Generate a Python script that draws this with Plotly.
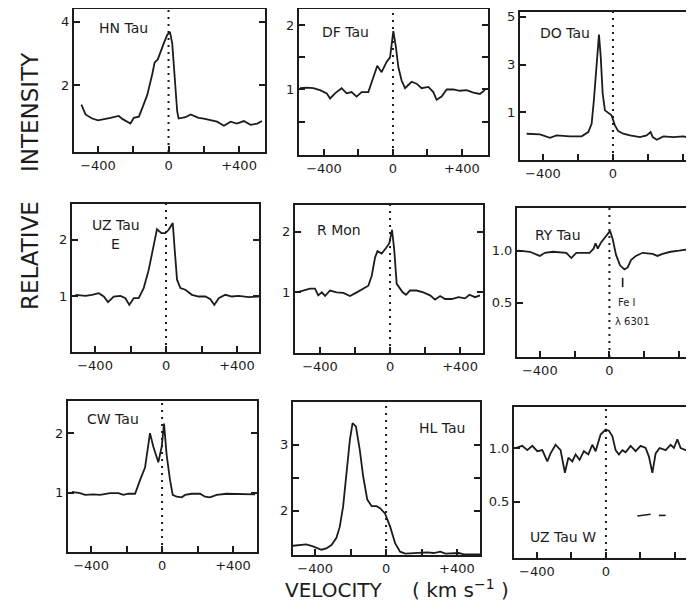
import plotly.graph_objects as go

# ---------------- data (velocity km/s, relative intensity) ----------------
names = ["HN Tau", "DF Tau", "DO Tau", "UZ Tau E", "R Mon", "RY Tau", "CW Tau", "HL Tau", "UZ Tau W"]

hn_v = [-494, -471, -433, -400, -329, -282, -260, -216, -197, -168, -149, -121, -92, -79, -61, -45, -27, -8, 8, 21, 36, 49, 57, 96, 125, 170, 200, 240, 275, 314, 352, 387, 427, 465, 503, 530]
hn_i = [1.38, 1.07, 0.94, 0.88, 0.96, 1.02, 0.92, 0.78, 0.96, 1.00, 1.27, 1.68, 2.35, 2.71, 2.81, 3.07, 3.32, 3.58, 3.68, 3.32, 2.09, 1.17, 0.94, 0.98, 1.07, 0.96, 0.94, 0.88, 0.84, 0.71, 0.84, 0.78, 0.86, 0.74, 0.78, 0.86]

df_v = [-539, -500, -462, -423, -384, -365, -336, -298, -269, -240, -211, -182, -143, -114, -91, -66, -37, -17, 2, 17, 31, 50, 70, 89, 108, 137, 166, 205, 234, 253, 282, 311, 350, 388, 427, 466, 504, 533]
df_i = [1.02, 1.03, 1.02, 0.99, 0.94, 0.86, 0.94, 1.02, 0.94, 0.96, 0.89, 0.96, 0.96, 1.19, 1.37, 1.27, 1.43, 1.50, 1.91, 1.66, 1.35, 1.14, 1.02, 1.07, 1.12, 1.09, 1.02, 1.04, 0.96, 0.84, 0.89, 1.00, 1.00, 0.98, 0.99, 0.95, 0.93, 0.99]

do_v = [-493, -417, -360, -322, -246, -179, -141, -122, -109, -97, -88, -80, -70, -59, -46, -27, -8, 11, 30, 59, 97, 154, 192, 215, 227, 250, 288, 345, 402, 463]
do_i = [0.10, 0.07, -0.07, 0.03, -0.01, -0.01, 0.17, 0.52, 1.51, 2.63, 3.62, 4.25, 3.33, 1.79, 1.08, 0.97, 0.87, 0.45, 0.21, 0.10, 0.03, -0.04, 0.03, 0.17, -0.04, -0.15, -0.01, -0.04, -0.01, -0.11]

uze_v = [-511, -454, -417, -379, -351, -327, -295, -257, -229, -207, -182, -154, -126, -98, -69, -51, -26, -4, 15, 38, 49, 62, 81, 109, 146, 184, 222, 250, 272, 297, 334, 372, 409, 466, 522]
uze_i = [1.02, 1.00, 1.02, 1.05, 0.99, 0.89, 0.99, 1.00, 0.96, 0.84, 0.96, 0.96, 1.14, 1.46, 1.91, 2.19, 2.12, 2.12, 2.18, 2.30, 1.82, 1.29, 1.14, 1.11, 1.02, 0.99, 0.99, 0.94, 0.84, 0.96, 1.02, 0.99, 1.00, 0.98, 0.99]

rm_v = [-533, -495, -457, -429, -410, -390, -371, -343, -305, -267, -229, -190, -152, -124, -105, -86, -72, -48, -23, -4, 11, 23, 38, 53, 72, 91, 114, 152, 190, 229, 257, 286, 314, 352, 391, 429, 453, 486, 514]
rm_i = [1.00, 1.03, 1.06, 1.06, 0.95, 1.00, 0.94, 1.03, 1.00, 0.99, 0.94, 1.00, 1.06, 1.11, 1.27, 1.57, 1.68, 1.64, 1.73, 1.81, 2.03, 1.73, 1.14, 1.08, 1.00, 0.96, 1.03, 1.03, 1.00, 0.95, 0.88, 0.94, 0.89, 0.89, 0.92, 0.90, 0.96, 0.92, 0.95]

ry_v = [-524, -457, -400, -371, -324, -248, -219, -190, -114, -91, -80, -67, -48, -19, 4, 19, 38, 61, 86, 105, 124, 152, 190, 248, 276, 305, 352, 400, 438, 480]
ry_i = [1.00, 0.99, 0.95, 0.98, 0.99, 0.98, 0.93, 0.98, 0.98, 1.02, 1.07, 1.02, 1.08, 1.14, 1.19, 1.11, 0.96, 0.86, 0.82, 0.84, 0.91, 0.95, 0.98, 0.97, 0.95, 0.97, 0.99, 1.00, 1.01, 0.98]

cw_v = [-509, -462, -434, -387, -349, -293, -246, -218, -190, -152, -124, -96, -68, -49, -21, -2, 11, 26, 45, 60, 83, 111, 130, 167, 214, 242, 270, 308, 364, 439, 524]
cw_i = [1.01, 0.99, 0.96, 0.97, 0.96, 0.99, 0.99, 0.96, 0.98, 0.98, 1.21, 1.42, 2.00, 1.77, 1.51, 1.77, 2.16, 1.63, 1.21, 0.96, 0.93, 0.92, 0.96, 0.98, 0.98, 0.93, 0.92, 0.96, 0.98, 0.98, 0.97]

hl_v = [-526, -488, -450, -412, -365, -337, -308, -280, -261, -242, -223, -204, -189, -170, -148, -129, -106, -81, -53, -34, -6, 23, 51, 79, 108, 155, 193, 231, 269, 306, 335, 373, 410, 439, 486, 530]
hl_i = [1.47, 1.48, 1.49, 1.46, 1.41, 1.43, 1.48, 1.59, 1.76, 2.07, 2.62, 3.08, 3.33, 3.28, 2.92, 2.52, 2.17, 2.07, 2.07, 2.04, 1.96, 1.76, 1.51, 1.38, 1.35, 1.36, 1.36, 1.37, 1.36, 1.38, 1.35, 1.36, 1.36, 1.34, 1.34, 1.34]

uzw_v = [-524, -485, -456, -427, -398, -369, -340, -321, -292, -263, -238, -218, -195, -176, -153, -128, -102, -79, -60, -31, -2, 17, 37, 56, 75, 95, 114, 143, 172, 201, 230, 249, 269, 288, 311, 346, 375, 394, 414, 433, 462, 500]
uzw_i = [1.00, 1.02, 0.98, 1.02, 0.97, 0.98, 0.875, 0.95, 1.03, 0.98, 0.77, 0.91, 0.875, 0.94, 0.89, 0.97, 0.94, 1.03, 0.97, 1.125, 1.17, 1.16, 1.11, 0.98, 0.94, 0.98, 0.96, 1.02, 0.97, 1.02, 1.00, 0.92, 0.77, 0.95, 1.00, 0.98, 1.03, 1.00, 1.08, 1.00, 0.98, 1.00]

# stray dashes in UZ Tau W panel
uzw_dash_v = [182, 259, None, 307, 346]
uzw_dash_i = [0.37, 0.385, None, 0.375, 0.375]

x_tickvals = [-400, -200, 0, 200, 400]
x_ticktext = ["\u2212400", "", "0", "", "+400"]

series = [(hn_v, hn_i), (df_v, df_i), (do_v, do_i), (uze_v, uze_i), (rm_v, rm_i),
          (ry_v, ry_i), (cw_v, cw_i), (hl_v, hl_i), (uzw_v, uzw_i)]

y_tickvals = [[2, 4], [0.5, 1, 1.5, 2], [1, 3, 5], [1, 2], [1, 2], [0.5, 1.0], [1, 2], [2, 2.5, 3], [0.5, 1.0]]
y_ticktext = [["2", "4"], ["", "1", "", "2"], ["1", "3", "5"], ["1", "2"], ["1", "2"], ["0.5", "1.0"],
              ["1", "2"], ["2", "", "3"], ["0.5", "1.0"]]

# ---------------- layout geometry ----------------
# The page body has an 8px margin; the figure is sized to fit the 694x613 window
# without scrollbars, and all window-pixel positions are shifted by that margin.
WIN_W, WIN_H, OFF = 694, 613, 8
W, H = WIN_W - 2 * OFF, WIN_H - 2 * OFF

def fx(px):
    return min(max((px - OFF) / W, 0.0), 1.0)

def fy(py):
    return min(max(1 - (py - OFF) / H, 0.0), 0.998)

boxes = [  # window px: x0, x1, ytop, ybottom
    (74, 265, 5, 152), (299, 488, 8, 155), (520, 694, 12, 160),
    (72, 259, 204, 352), (295, 483, 205, 353), (517, 694, 208, 357),
    (68, 257, 401, 552), (293, 480, 402, 555), (514, 694, 407, 558),
]
x_ranges = [(-536, 547), (-545, 551), (-531, 417), (-530, 524), (-543, 531), (-531, 440),
            (-530, 535), (-525, 530), (-533, 464)]
y_ranges = [(-0.12, 4.4), (-0.02, 2.25), (-1.0, 5.2), (0.0, 2.64), (0.0, 2.44), (-0.02, 1.41),
            (0.0, 2.54), (1.33, 3.65), (-0.02, 1.38)]
cut_right = [False, False, True, False, False, True, False, False, True]

INK = "#1c1c1c"
FONT = "DejaVu Sans"

fig = go.Figure()
layout = dict(width=W, height=H, autosize=False,
              margin=dict(l=0, r=0, t=0, b=0, pad=0, autoexpand=False),
              paper_bgcolor="white", plot_bgcolor="white", showlegend=False,
              font=dict(family=FONT, color=INK, size=13))
shapes = []
annotations = []

for k, ((v, inten), box) in enumerate(zip(series, boxes)):
    n = k + 1
    xa = "x" if n == 1 else f"x{n}"
    ya = "y" if n == 1 else f"y{n}"
    fig.add_trace(go.Scatter(x=v, y=inten, mode="lines", xaxis=xa, yaxis=ya,
                             line=dict(color=INK, width=1.8), hoverinfo="skip"))
    x0, x1, yt, yb = box
    layout["xaxis" if n == 1 else f"xaxis{n}"] = dict(
        domain=[fx(x0), fx(x1)], range=list(x_ranges[k]), anchor=ya,
        showgrid=False, zeroline=False, showline=True, linecolor=INK, linewidth=2,
        mirror=True, ticks="inside", ticklen=6, tickwidth=1.6, tickcolor=INK,
        tickvals=x_tickvals, ticktext=x_ticktext, tickfont=dict(size=13, color=INK, family=FONT))
    layout["yaxis" if n == 1 else f"yaxis{n}"] = dict(
        domain=[fy(yb), fy(yt)], range=list(y_ranges[k]), anchor=xa,
        showgrid=False, zeroline=False, showline=True, linecolor=INK, linewidth=2,
        mirror=(False if cut_right[k] else "ticks"), ticks="inside", ticklen=6, tickwidth=1.6,
        tickcolor=INK, tickvals=y_tickvals[k], ticktext=y_ticktext[k],
        tickfont=dict(size=13, color=INK, family=FONT))
    shapes.append(dict(type="line", xref=xa, yref=f"{ya} domain", x0=0, x1=0, y0=0, y1=1,
                       line=dict(color=INK, width=2, dash="2px,5px")))

# stray dashes (UZ Tau W)
fig.add_trace(go.Scatter(x=uzw_dash_v, y=uzw_dash_i, mode="lines", xaxis="x9", yaxis="y9",
                         line=dict(color=INK, width=1.6), hoverinfo="skip", connectgaps=False))

# Fe I marker in RY Tau
shapes.append(dict(type="line", xref="x6", yref="y6", x0=76, x1=76, y0=0.65, y1=0.74,
                   line=dict(color=INK, width=1.6)))

def lab(text, px, py, size=14, anchor="left"):
    annotations.append(dict(text=text, x=fx(px), y=fy(py), xref="paper", yref="paper",
                            xanchor=anchor, yanchor="middle", showarrow=False,
                            font=dict(family=FONT, size=size, color=INK)))

lab("HN Tau", 97, 28)
lab("DF Tau", 320, 32)
lab("DO Tau", 538, 33)
lab("UZ Tau", 90, 225)
lab("E", 115, 244, anchor="center")
lab("R Mon", 315, 230)
lab("RY Tau", 533, 235)
lab("CW Tau", 85, 419)
lab("HL Tau", 417, 428)
lab("UZ Tau W", 528, 537)

for t, xv, yv in [("Fe I", 38, 0.5), ("\u03bb 6301", 23, 0.325)]:
    annotations.append(dict(text=t, x=xv, y=yv, xref="x6", yref="y6", xanchor="left",
                            yanchor="middle", showarrow=False,
                            font=dict(family=FONT, size=10, color=INK)))

# axis titles
annotations.append(dict(text="INTENSITY", x=fx(30), y=fy(112), xref="paper", yref="paper",
                        textangle=-90, showarrow=False, xanchor="center", yanchor="middle",
                        font=dict(family=FONT, size=23, color=INK)))
annotations.append(dict(text="RELATIVE", x=fx(30), y=fy(256), xref="paper", yref="paper",
                        textangle=-90, showarrow=False, xanchor="center", yanchor="middle",
                        font=dict(family=FONT, size=23, color=INK)))
annotations.append(dict(text="VELOCITY", x=fx(283), y=fy(604), xref="paper", yref="paper",
                        showarrow=False, xanchor="left", yanchor="bottom",
                        font=dict(family=FONT, size=20, color=INK)))
annotations.append(dict(text="( km s<sup>\u22121</sup> )", x=fx(410), y=fy(604), xref="paper",
                        yref="paper", showarrow=False, xanchor="left", yanchor="bottom",
                        font=dict(family=FONT, size=20, color=INK)))

layout["shapes"] = shapes
layout["annotations"] = annotations
fig.update_layout(**layout)
fig.write_html("out.html")
